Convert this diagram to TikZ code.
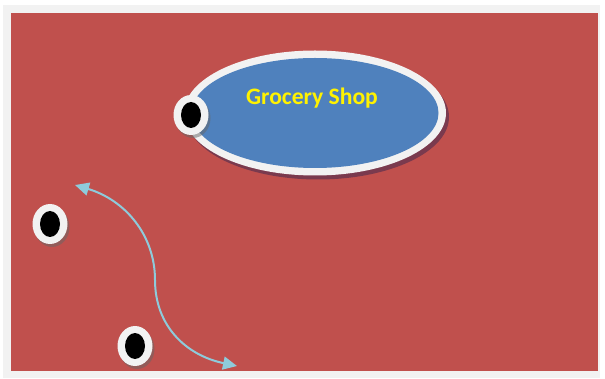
\documentclass[tikz,border=0pt]{standalone}
\usepackage{fontspec}
\setmainfont{Carlito}
\usetikzlibrary{shapes.geometric,shadows,arrows.meta}
\definecolor{framegray}{HTML}{F2F2F2}
\definecolor{boardred}{HTML}{C0504D}
\definecolor{shopblue}{HTML}{4F81BD}
\definecolor{shopshadow}{HTML}{7A3A4E}
\definecolor{routeblue}{HTML}{8ECBDB}

\begin{document}
\begin{tikzpicture}[
  x=1pt, y=-1pt,
  ring/.style={ellipse, fill=framegray, inner sep=0pt},
  eye/.style={ring, minimum width=35pt, minimum height=40pt,
    drop shadow={shadow xshift=2pt, shadow yshift=-3pt, fill=black!60, opacity=0.5}},
  pupil/.style={ellipse, fill=black, inner sep=0pt, minimum width=20pt, minimum height=26pt},
  shoptext/.style={font=\fontsize{23.6}{28}\selectfont\bfseries, text=yellow, inner sep=0pt},
  route/.style={{Triangle[length=14pt,width=13pt]}-{Triangle[length=14pt,width=13pt]}, line width=2pt, draw=routeblue}
]
\useasboundingbox (0,0) rectangle (605,379);

% frame and board
\fill[framegray] (3,5) rectangle (600,378);
\fill[boardred] (11,13) rectangle (598,371);

% the shop
\node[ring, minimum width=262pt, minimum height=125pt,
  drop shadow={shadow xshift=3pt, shadow yshift=-4pt, fill=shopshadow, opacity=1}] (shop) at (315,113) {};
\node[ellipse, fill=shopblue, inner sep=0pt, minimum width=247pt, minimum height=110pt] (shopinner) at (shop.center) {};
\node[shoptext] (shoplabel) at (312,98) {Grocery Shop};

% eyes
\node[eye] (eyeshop) at (191,115) {};
\node[pupil] (pupilshop) at (eyeshop) {};
\node[eye] (eyeleft) at (50,224) {};
\node[pupil] (pupilleft) at (eyeleft) {};
\node[eye] (eyebottom) at (135,346) {};
\node[pupil] (pupilbottom) at (eyebottom) {};

% route
\coordinate (routestart) at (75,185);
\coordinate (routeend) at (237,366);
\draw[route] (routestart) .. controls (125,200) and (155,235) .. (155,280)
  .. controls (155,325) and (185,355) .. (routeend);

\end{tikzpicture}
\end{document}
